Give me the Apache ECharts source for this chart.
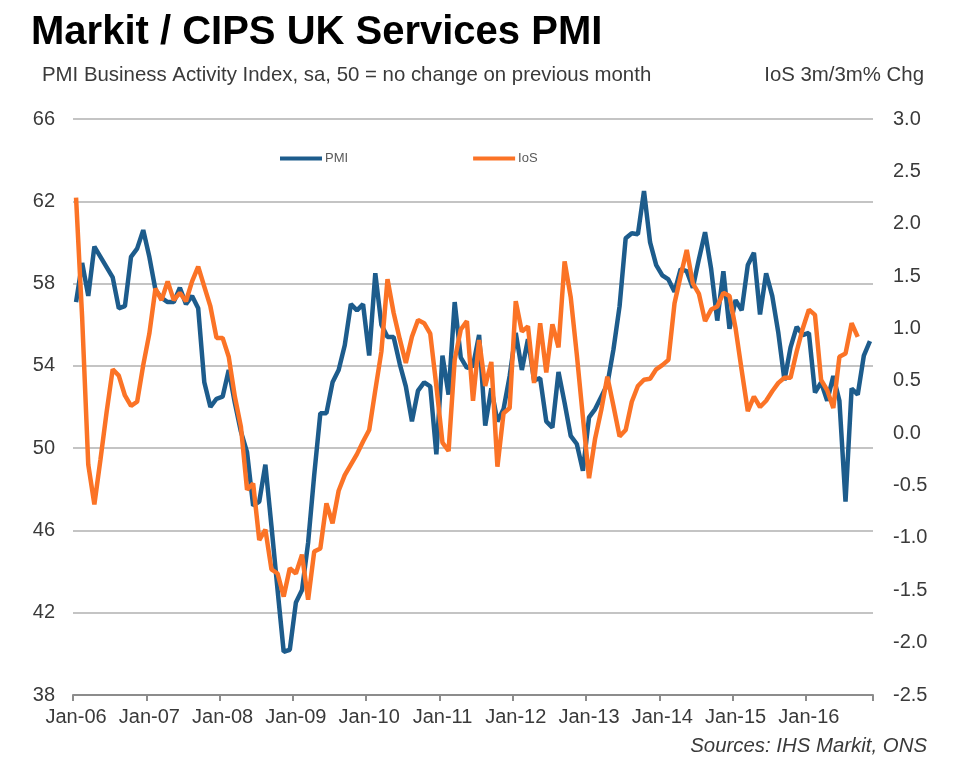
<!DOCTYPE html>
<html>
<head>
<meta charset="utf-8">
<script src="https://cdn.jsdelivr.net/npm/echarts@6/dist/echarts.min.js"></script>
<style>
html,body{margin:0;padding:0;background:#fff;}
#chart{width:960px;height:770px;}
</style>
</head>
<body>
<div id="chart"></div>
<script>
// ---- Data ----
const monthNames = ['Jan','Feb','Mar','Apr','May','Jun','Jul','Aug','Sep','Oct','Nov','Dec'];
const yearLabels = ['06','07','08','09','10','11','12','13','14','15','16'];
const lastMonthIndexOf2016 = 10; // data runs to Nov-16

// PMI Business Activity Index (left axis)
const pmi = [
  57.1, 59.0, 57.4, 59.8, 59.3, 58.8, 58.3, 56.8, 56.9, 59.3, 59.7, 60.6,
  59.3, 57.7, 57.3, 57.1, 57.1, 57.8, 57.0, 57.4, 56.8, 53.2, 52.0, 52.4,
  52.5, 53.8, 52.2, 50.8, 49.8, 47.2, 47.4, 49.2, 46.2, 43.1, 40.1, 40.2,
  42.5, 43.1, 45.4, 48.7, 51.7, 51.7, 53.2, 53.8, 55.0, 57.0, 56.7, 57.0,
  54.5, 58.5, 56.0, 55.4, 55.4, 54.1, 53.0, 51.3, 52.8, 53.2, 53.0, 49.7,
  54.5, 52.6, 57.1, 54.4, 53.9, 54.0, 55.5, 51.1, 52.9, 51.3, 51.9, 53.5,
  55.6, 53.8, 55.3, 53.3, 53.4, 51.3, 51.0, 53.7, 52.2, 50.6, 50.2, 48.9,
  51.5, 51.9, 52.5, 53.1, 54.8, 56.9, 60.2, 60.45, 60.4, 62.5, 60.0, 58.9,
  58.4, 58.2, 57.6, 58.7, 58.6, 57.8, 59.2, 60.5, 58.7, 56.2, 58.6, 55.8,
  57.2, 56.7, 58.9, 59.5, 56.5, 58.5, 57.4, 55.6, 53.3, 54.9, 55.9, 55.5,
  55.6, 52.7, 53.2, 52.3, 53.5, 52.3, 47.4, 52.9, 52.6, 54.5, 55.2
];

// IoS 3m/3m % change (right axis), available to Sep-16
const ios = [
  2.25, 1.10, -0.30, -0.68, -0.25, 0.20, 0.61, 0.55, 0.36, 0.26, 0.30, 0.65,
  0.95, 1.38, 1.27, 1.45, 1.27, 1.34, 1.26, 1.45, 1.59, 1.40, 1.21, 0.91,
  0.91, 0.73, 0.35, 0.06, -0.54, -0.48, -1.02, -0.92, -1.30, -1.34, -1.56, -1.29,
  -1.34, -1.16, -1.59, -1.13, -1.10, -0.67, -0.86, -0.55, -0.40, -0.30, -0.20, -0.08,
  0.03, 0.41, 0.78, 1.47, 1.15, 0.90, 0.67, 0.92, 1.08, 1.05, 0.95, 0.45,
  -0.09, -0.17, 0.70, 0.99, 1.07, 0.31, 0.89, 0.45, 0.68, -0.32, 0.19, 0.24,
  1.26, 0.97, 1.02, 0.48, 1.05, 0.58, 1.04, 0.82, 1.64, 1.30, 0.75, 0.15,
  -0.43, -0.05, 0.22, 0.54, 0.26, -0.03, 0.03, 0.30, 0.45, 0.51, 0.52, 0.61,
  0.65, 0.70, 1.24, 1.50, 1.75, 1.43, 1.33, 1.07, 1.18, 1.21, 1.34, 1.31,
  1.00, 0.60, 0.21, 0.35, 0.25, 0.31, 0.40, 0.48, 0.53, 0.53, 0.78, 1.00,
  1.18, 1.13, 0.51, 0.41, 0.24, 0.73, 0.76, 1.05, 0.92, null, null
];

// Axis settings
const leftTicks = {min: 38, max: 66, interval: 4};
const rightTicks = {min: -2.5, max: 3.0, interval: 0.5};

// categories
const categories = [];
yearLabels.forEach((y, yi) => {
  monthNames.forEach((m, mi) => {
    if (yi === yearLabels.length - 1 && mi > lastMonthIndexOf2016) return;
    categories.push(m + '-' + y);
  });
});

const BLUE = '#1d5c8c';
const ORANGE = '#fb7326';
const TXT = '#3a3a3a';

const chart = echarts.init(document.getElementById('chart'), null, {renderer: 'canvas'});
chart.setOption({
  backgroundColor: '#ffffff',
  animation: false,
  textStyle: {fontFamily: 'Liberation Sans, Arial, sans-serif'},
  title: [
    {text: 'Markit / CIPS UK Services PMI', left: 31, top: 13, padding: 0,
     textStyle: {fontSize: 40, fontWeight: 'bold', color: '#000', fontFamily: 'Liberation Sans, Arial, sans-serif'}},
    {text: 'PMI Business Activity Index, sa, 50 = no change on previous month', left: 42, top: 65, padding: 0,
     textStyle: {fontSize: 20.4, fontWeight: 'normal', color: TXT}},
    {text: 'IoS 3m/3m% Chg', right: 36, top: 65, padding: 0,
     textStyle: {fontSize: 20.4, fontWeight: 'normal', color: TXT}},
    {text: 'Sources: IHS Markit, ONS', right: 33, top: 736, padding: 0,
     textStyle: {fontSize: 20.4, fontWeight: 'normal', fontStyle: 'italic', color: TXT}}
  ],
  legend: {
    data: ['PMI', 'IoS'],
    left: 280, top: 152, padding: 0,
    icon: 'rect', itemWidth: 42, itemHeight: 4, itemGap: 125,
    textStyle: {fontSize: 13, color: '#595959', padding: [0, 0, 0, -2]}
  },
  grid: {left: 73, right: 87, top: 119, bottom: 75, containLabel: false},
  xAxis: {
    type: 'category',
    data: categories,
    boundaryGap: true,
    axisLine: {onZero: false, lineStyle: {color: '#8c8c8c', width: 2}},
    axisTick: {show: true, length: 6, lineStyle: {color: '#8c8c8c', width: 2},
      interval: (i) => i % 12 === 0},
    axisLabel: {interval: (i) => i % 12 === 0, fontSize: 20, color: TXT, margin: 12},
    splitLine: {show: false}
  },
  yAxis: [
    {type: 'value', min: leftTicks.min, max: leftTicks.max, interval: leftTicks.interval,
     axisLine: {show: false}, axisTick: {show: false},
     axisLabel: {fontSize: 20, color: TXT, margin: 18},
     splitLine: {lineStyle: {color: '#c4c4c4', width: 2}}},
    {type: 'value', min: rightTicks.min, max: rightTicks.max, interval: rightTicks.interval,
     position: 'right',
     axisLine: {show: false}, axisTick: {show: false},
     axisLabel: {fontSize: 20, color: TXT, margin: 20, formatter: (v) => v.toFixed(1)},
     splitLine: {show: false}}
  ],
  series: [
    {name: 'PMI', type: 'line', yAxisIndex: 0, data: pmi, symbol: 'none', smooth: false,
     lineStyle: {color: BLUE, width: 4.5}, itemStyle: {color: BLUE}, z: 2},
    {name: 'IoS', type: 'line', yAxisIndex: 1, data: ios, symbol: 'none', smooth: false,
     lineStyle: {color: ORANGE, width: 4.5}, itemStyle: {color: ORANGE}, z: 3}
  ]
});
</script>
</body>
</html>
